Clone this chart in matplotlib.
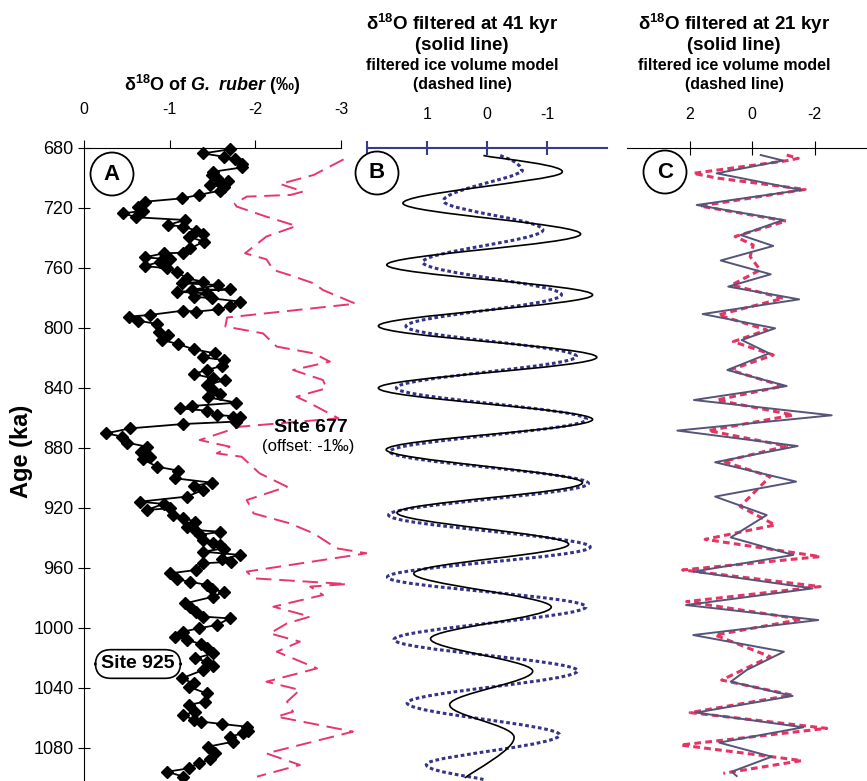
import matplotlib
matplotlib.use('Agg')
import matplotlib.pyplot as plt
from matplotlib.path import Path
from matplotlib.patches import PathPatch, Ellipse

plt.rcParams['font.family'] = ['Liberation Sans', 'DejaVu Sans']
plt.rcParams['mathtext.fontset'] = 'custom'
plt.rcParams['mathtext.rm'] = 'Liberation Sans'
plt.rcParams['mathtext.bf'] = 'Liberation Sans:bold'
plt.rcParams['mathtext.bfit'] = 'Liberation Sans:italic:bold'

# --- Panel A: Site 925 (G. ruber) ---
site925_age = [680.9, 683.6, 685.8, 687.6, 690.7, 692.9, 695.8, 698.0, 700.2, 701.8,
               703.1, 704.7, 705.8, 708.4, 711.3, 713.6, 715.8, 719.1, 721.8, 723.6,
               726.2, 728.0, 731.3, 732.4, 735.1, 737.3, 739.1, 742.4, 746.9, 749.8,
               750.2, 752.9, 754.2, 755.8, 758.7, 760.2, 762.4, 766.9, 769.1, 770.2,
               771.3, 774.7, 774.2, 775.8, 776.9, 779.1, 780.2, 782.4, 785.3, 787.6,
               789.1, 788.4, 791.3, 792.4, 795.1, 797.3, 802.4, 804.7, 808.0, 810.7,
               814.2, 816.9, 819.6, 821.3, 825.3, 828.0, 830.7, 833.6, 834.7, 838.0,
               840.9, 844.0, 846.2, 849.8, 852.0, 853.6, 855.1, 858.0, 859.1, 859.6,
               862.4, 864.0, 866.9, 870.2, 872.4, 876.4, 879.1, 882.4, 885.8, 887.6,
               892.4, 895.1, 900.2, 903.1, 905.3, 908.0, 912.4, 915.8, 917.3, 921.3,
               920.2, 924.7, 926.9, 929.0, 932.4, 934.7, 935.8, 938.0, 941.3, 943.6,
               944.7, 947.0, 949.1, 951.3, 954.2, 955.8, 956.9, 961.3, 963.6, 967.6,
               969.1, 971.3, 974.2, 975.8, 979.1, 983.6, 986.2, 989.1, 992.4, 993.6,
               998.0, 1000.2, 1002.4, 1005.8, 1008.0, 1010.7, 1013.6, 1016.9, 1020.2, 1022.4,
               1025.3, 1028.0, 1033.6, 1036.9, 1039.1, 1043.6, 1049.1, 1051.3, 1055.8, 1058.0,
               1061.3, 1062.4, 1064.0, 1065.8, 1068.4, 1070.2, 1072.4, 1075.8, 1079.1, 1083.6,
               1087.6, 1090.2, 1093.6, 1095.8, 1099.1]
site925_d18o = [-1.70, -1.39, -1.63, -1.76, -1.85, -1.85, -1.51, -1.49, -1.55, -1.68,
                -1.59, -1.47, -1.63, -1.59, -1.34, -1.14, -0.71, -0.63, -0.69, -0.46,
                -0.61, -1.18, -0.98, -1.16, -1.31, -1.39, -1.22, -1.40, -1.24, -1.16,
                -0.93, -0.71, -1.00, -0.89, -0.71, -0.97, -1.08, -1.20, -1.39, -1.14,
                -1.57, -1.26, -1.70, -1.08, -1.43, -1.28, -1.49, -1.82, -1.70, -1.57,
                -1.31, -1.16, -0.77, -0.52, -0.63, -0.85, -0.87, -0.98, -0.91, -1.10,
                -1.28, -1.53, -1.39, -1.63, -1.61, -1.43, -1.28, -1.51, -1.65, -1.43,
                -1.49, -1.59, -1.45, -1.78, -1.26, -1.12, -1.43, -1.55, -1.82, -1.74,
                -1.78, -1.16, -0.54, -0.26, -0.44, -0.50, -0.73, -0.67, -0.77, -0.69,
                -0.85, -1.10, -1.06, -1.49, -1.28, -1.39, -1.20, -0.65, -0.93, -0.73,
                -1.00, -1.04, -1.16, -1.30, -1.20, -1.30, -1.59, -1.35, -1.39, -1.51,
                -1.59, -1.63, -1.39, -1.82, -1.61, -1.72, -1.39, -1.31, -1.00, -1.08,
                -1.24, -1.43, -1.49, -1.63, -1.51, -1.18, -1.24, -1.31, -1.39, -1.70,
                -1.55, -1.34, -1.16, -1.06, -1.20, -1.37, -1.43, -1.51, -1.30, -1.43,
                -1.51, -1.39, -1.14, -1.28, -1.22, -1.43, -1.41, -1.22, -1.30, -1.16,
                -1.28, -1.37, -1.61, -1.90, -1.92, -1.86, -1.70, -1.74, -1.45, -1.53,
                -1.47, -1.34, -1.22, -0.97, -1.16]

# --- Panel A: Site 677 (offset -1 permil) ---
site677_age = [687.6, 698.0, 704.0, 709.0, 711.3, 712.4, 717.0, 719.0, 725.8, 732.0,
               739.0, 750.2, 754.2, 761.3, 764.7, 770.2, 774.7, 783.8, 793.0, 799.0,
               803.6, 812.4, 816.9, 822.4, 828.0, 834.7, 840.2, 845.8, 850.2, 860.2,
               865.8, 874.7, 879.1, 883.6, 885.8, 896.9, 905.8, 914.7, 923.6, 930.2,
               936.9, 946.9, 950.2, 962.4, 966.9, 970.7, 972.4, 978.0, 985.8, 992.4,
               996.9, 1003.6, 1009.1, 1015.8, 1026.9, 1035.8, 1041.3, 1049.1, 1055.8, 1059.1,
               1069.1, 1083.6, 1091.3, 1099.1]
site677_d18o = [-3.03, -2.68, -2.29, -2.56, -2.41, -1.90, -1.76, -1.78, -2.13, -2.48,
                -2.13, -1.88, -2.13, -2.21, -2.40, -2.68, -2.79, -3.17, -1.67, -1.65,
                -2.09, -2.25, -2.68, -2.87, -2.44, -2.79, -2.83, -2.48, -2.64, -2.97,
                -1.82, -1.35, -1.70, -1.55, -1.84, -2.05, -2.37, -1.90, -1.98, -2.40,
                -2.68, -2.95, -3.30, -1.90, -1.98, -3.07, -2.64, -2.79, -2.21, -2.64,
                -2.37, -2.17, -2.52, -2.25, -2.72, -2.13, -2.52, -2.37, -2.44, -2.25,
                -3.14, -2.13, -2.52, -2.02]

# --- Panel B: 41 kyr filtered (turning points) ---
f41_age = [685.0, 697.0, 717.0, 737.5, 758.0, 778.0, 798.7, 819.5, 840.0, 860.9,
           881.0, 903.0, 923.0, 944.0, 963.5, 985.8, 1006.9, 1028.4, 1050.7, 1072.4, 1100.0]
f41_val = [0.06, -1.23, 1.40, -1.56, 1.67, -1.76, 1.81, -1.83, 1.81, -1.76,
           1.68, -1.59, 1.50, -1.36, 1.22, -1.07, 0.94, -0.76, 0.62, -0.45, 0.37]
ice41_age = [685.0, 689.0, 694.0, 698.0, 715.8, 735.0, 756.4, 778.0, 799.0, 819.0,
             840.0, 861.0, 882.4, 903.6, 924.7, 946.0, 966.0, 985.8, 1007.6, 1028.4,
             1049.8, 1071.0, 1089.8, 1101.0]
ice41_val = [-0.22, -0.45, -0.57, -0.45, 0.72, -0.93, 1.07, -1.24, 1.35, -1.49,
             1.51, -1.66, 1.62, -1.69, 1.64, -1.72, 1.66, -1.65, 1.55, -1.51,
             1.33, -1.21, 0.98, 0.06]

# --- Panel C: 21 kyr filtered ---
f21_age = [684.7, 688.4, 696.9, 708.0, 718.0, 728.0, 738.0, 745.3, 755.0, 764.2,
           772.4, 780.9, 790.7, 800.2, 808.0, 816.9, 828.0, 838.7, 848.0, 858.2,
           868.4, 878.7, 889.5, 902.4, 912.4, 924.7, 939.6, 951.3, 962.4, 973.6,
           984.7, 994.7, 1004.7, 1015.8, 1028.0, 1035.8, 1045.3, 1056.4, 1066.2, 1076.4,
           1085.8, 1095.8, 1098.7]
f21_val = [-0.28, -1.00, 1.13, -1.59, 1.77, -1.00, 0.36, -0.68, 1.00, -0.60,
           0.76, -1.51, 1.58, -0.74, 0.33, -0.55, 0.79, -1.11, 1.86, -2.55,
           2.39, -1.46, 1.18, -1.41, 1.18, -0.47, 0.68, -1.32, 1.86, -1.94,
           2.11, -2.12, 1.88, -1.02, 0.17, 0.68, -1.30, 1.79, -1.64, 1.05,
           -0.63, 0.65, 0.49]
ice21_age = [684.7, 686.9, 688.5, 696.9, 700.0, 707.6, 718.7, 728.7, 739.0, 744.7,
             752.4, 761.3, 771.3, 780.2, 791.3, 801.3, 809.1, 818.0, 828.0, 838.7,
             848.0, 858.0, 868.4, 878.7, 889.0, 899.0, 919.0, 931.3, 940.9, 952.4,
             961.3, 972.4, 982.4, 994.2, 1004.7, 1019.1, 1034.7, 1044.7, 1056.4, 1066.9,
             1078.0, 1088.4, 1096.9]
ice21_val = [-1.11, -1.48, -1.10, 1.88, 1.13, -1.70, 1.66, -1.09, 0.54, -0.04,
             0.06, -0.26, 0.65, -1.00, 1.08, -0.47, 0.60, -0.68, 0.70, -1.00,
             1.13, -1.32, 1.40, -1.11, 0.92, -0.58, 0.38, -0.74, 1.50, -2.18,
             2.22, -2.18, 2.09, -1.59, 1.18, -0.58, 0.97, -1.27, 1.98, -2.39,
             2.28, -1.59, 0.92]

age_ticks = [680, 720, 760, 800, 840, 880, 920, 960, 1000, 1040, 1080]


def smooth_path(xs, ys):
    # catmull-rom through the read turning points, drawn as bezier
    pts = list(zip(xs, ys))
    n = len(pts)
    verts = [pts[0]]
    codes = [Path.MOVETO]
    for i in range(n - 1):
        p0 = pts[i - 1] if i > 0 else pts[i]
        p1 = pts[i]
        p2 = pts[i + 1]
        p3 = pts[i + 2] if i + 2 < n else pts[i + 1]
        c1 = (p1[0] + (p2[0] - p0[0]) / 6, p1[1] + (p2[1] - p0[1]) / 6)
        c2 = (p2[0] - (p3[0] - p1[0]) / 6, p2[1] - (p3[1] - p1[1]) / 6)
        verts += [c1, c2, p2]
        codes += [Path.CURVE4] * 3
    return Path(verts, codes)


fig = plt.figure(figsize=(8.67, 7.81), dpi=100)
H = 633 / 781
ylim = (1102, 680)
navy = '#3a3a8c'

# Panel A
axA = fig.add_axes([84 / 867, 0, 257 / 867, H])
axA.plot(site677_d18o, site677_age, color='#e8356b', lw=1.4, dashes=(8, 4), clip_on=False)
axA.plot(site925_d18o, site925_age, color='black', lw=1.3, marker='D', ms=6, clip_on=False)
axA.set_xlim(0, -3)
axA.set_ylim(*ylim)
axA.xaxis.tick_top()
axA.set_xticks([0, -1, -2, -3])
axA.set_xticklabels(['0', '-1', '-2', '-3'])
axA.set_yticks(age_ticks)
axA.tick_params(axis='x', direction='out', length=6, pad=16, labelsize=11.5)
axA.tick_params(axis='y', direction='inout', length=9, pad=3, labelsize=13)
axA.spines['right'].set_visible(False)
axA.spines['bottom'].set_visible(False)
axA.set_ylabel('Age (ka)', fontsize=17, fontweight='bold')
axA.yaxis.set_label_coords(-0.198, 0.52)
axA.text(-2.65, 866, 'Site 677', fontsize=14, fontweight='bold', ha='center', va='center')
axA.text(-2.62, 879, '(offset: -1‰)', fontsize=12, ha='center', va='center')
axA.text(-0.63, 1024, 'Site 925', fontsize=14, fontweight='bold', ha='center', va='center',
         bbox=dict(boxstyle='round,pad=0.3,rounding_size=0.8', fc='white', ec='black', lw=1.2))

# Panel B
axB = fig.add_axes([367 / 867, 0, 240 / 867, H])
axB.add_patch(PathPatch(smooth_path(ice41_val, ice41_age), fill=False, ec='#33338a',
                        lw=2.2, ls=(0, (1.2, 0.9))))
axB.add_patch(PathPatch(smooth_path(f41_val, f41_age), fill=False, ec='black', lw=1.2))
axB.set_xlim(2, -2)
axB.set_ylim(*ylim)
axB.xaxis.tick_top()
axB.set_xticks([2, 1, 0, -1])
axB.set_xticklabels(['', '1', '0', '-1'])
axB.set_yticks([])
axB.tick_params(axis='x', direction='inout', length=10, width=1.5, color=navy, pad=14, labelsize=11.5)
for s in ['left', 'right', 'bottom']:
    axB.spines[s].set_visible(False)
axB.spines['top'].set_color(navy)
axB.spines['top'].set_linewidth(1.5)

# Panel C
axC = fig.add_axes([627 / 867, 0, 240 / 867, H])
axC.plot(ice21_val, ice21_age, color='#e63462', lw=2.2, dashes=(2.2, 1.4))
axC.plot(f21_val, f21_age, color='#55557a', lw=1.4)
axC.set_xlim(4.0, -3.68)
axC.set_ylim(*ylim)
axC.xaxis.tick_top()
axC.set_xticks([2, 0, -2])
axC.set_xticklabels(['2', '0', '-2'])
axC.set_yticks([])
axC.tick_params(axis='x', direction='inout', length=10, pad=14, labelsize=11.5)
for s in ['left', 'right', 'bottom']:
    axC.spines[s].set_visible(False)

# panel letters
for cx, cy, lab in [(112, 174, 'A'), (377, 173, 'B'), (665, 172, 'C')]:
    fig.add_artist(Ellipse((cx / 100, (781 - cy) / 100), 0.43, 0.43, transform=fig.dpi_scale_trans,
                           fc='white', ec='black', lw=1.3))
    fig.text(cx / 867, 1 - cy / 781, lab, fontsize=16, fontweight='bold', ha='center', va='center')

# titles
fig.text(212 / 867, 1 - 85 / 781, r'δ$^{\mathbf{18}}$O of $\mathbfit{G.\ ruber}$ (‰)',
         fontsize=13, fontweight='bold', ha='center', va='center')
for cx, per in [(462, '41'), (734, '21')]:
    fig.text(cx / 867, 1 - 24 / 781, r'δ$^{\mathbf{18}}$O filtered at ' + per + ' kyr',
             fontsize=13.5, fontweight='bold', ha='center', va='center')
    fig.text(cx / 867, 1 - 45 / 781, '(solid line)', fontsize=13.5, fontweight='bold',
             ha='center', va='center')
    fig.text(cx / 867, 1 - 65 / 781, 'filtered ice volume model', fontsize=11.5,
             fontweight='bold', ha='center', va='center')
    fig.text(cx / 867, 1 - 84 / 781, '(dashed line)', fontsize=11.5, fontweight='bold',
             ha='center', va='center')

fig.savefig('out.png', dpi=100)
